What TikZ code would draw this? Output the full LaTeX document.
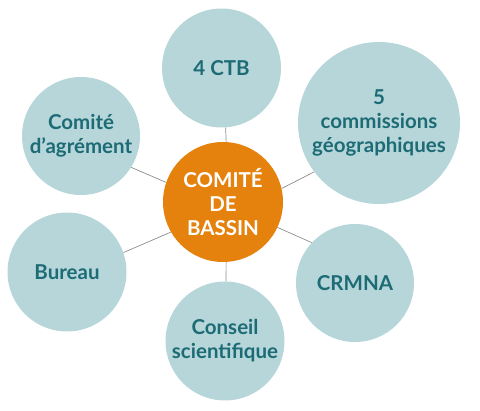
\documentclass[tikz,border=0pt]{standalone}
\usepackage{fontspec}
\setmainfont{Lato}
\definecolor{bubble}{HTML}{B6D6DA}
\definecolor{bubbletext}{HTML}{1C6B75}
\definecolor{core}{HTML}{E5820E}
\definecolor{link}{HTML}{8C8C8C}
\begin{document}
\begin{tikzpicture}[x=1pt,y=-1pt,
  bubblenode/.style={circle,fill=bubble,text=bubbletext,inner sep=0pt,align=center,
    font=\fontsize{20.5}{24}\selectfont\bfseries},
  corenode/.style={circle,fill=core,text=white,inner sep=0pt,align=center,minimum size=120pt,
    font=\fontsize{20.5}{24}\selectfont\bfseries},
  linkline/.style={draw=link,line width=0.7pt}]
\useasboundingbox (0,0) rectangle (480,411);
\node[corenode] (c) at (223,202) {COMITÉ\\DE\\BASSIN};
\node[bubblenode,minimum size=119pt] (ctb) at (221.5,68) {4 CTB};
\node[bubblenode,minimum size=162pt] (geo) at (379,123) {5\\commissions\\géographiques};
\node[bubblenode,minimum size=118pt] (agr) at (81,136) {Comité\\d’agrément};
\node[bubblenode,minimum size=119pt] (bur) at (67,272) {Bureau};
\node[bubblenode,minimum size=119pt] (cons) at (225,341) {Conseil\\scientifique};
\node[bubblenode,minimum size=118pt] (crm) at (355,283) {CRMNA};
\draw[linkline] (c.87) -- (ctb.274);
\draw[linkline] (c.161) -- (agr.328);
\draw[linkline] (c.13) -- (geo.217);
\draw[linkline] (c.210) -- (bur.19);
\draw[linkline] (c.273) -- (cons.89);
\draw[linkline] (c.335) -- (crm.137);
\end{tikzpicture}
\end{document}
